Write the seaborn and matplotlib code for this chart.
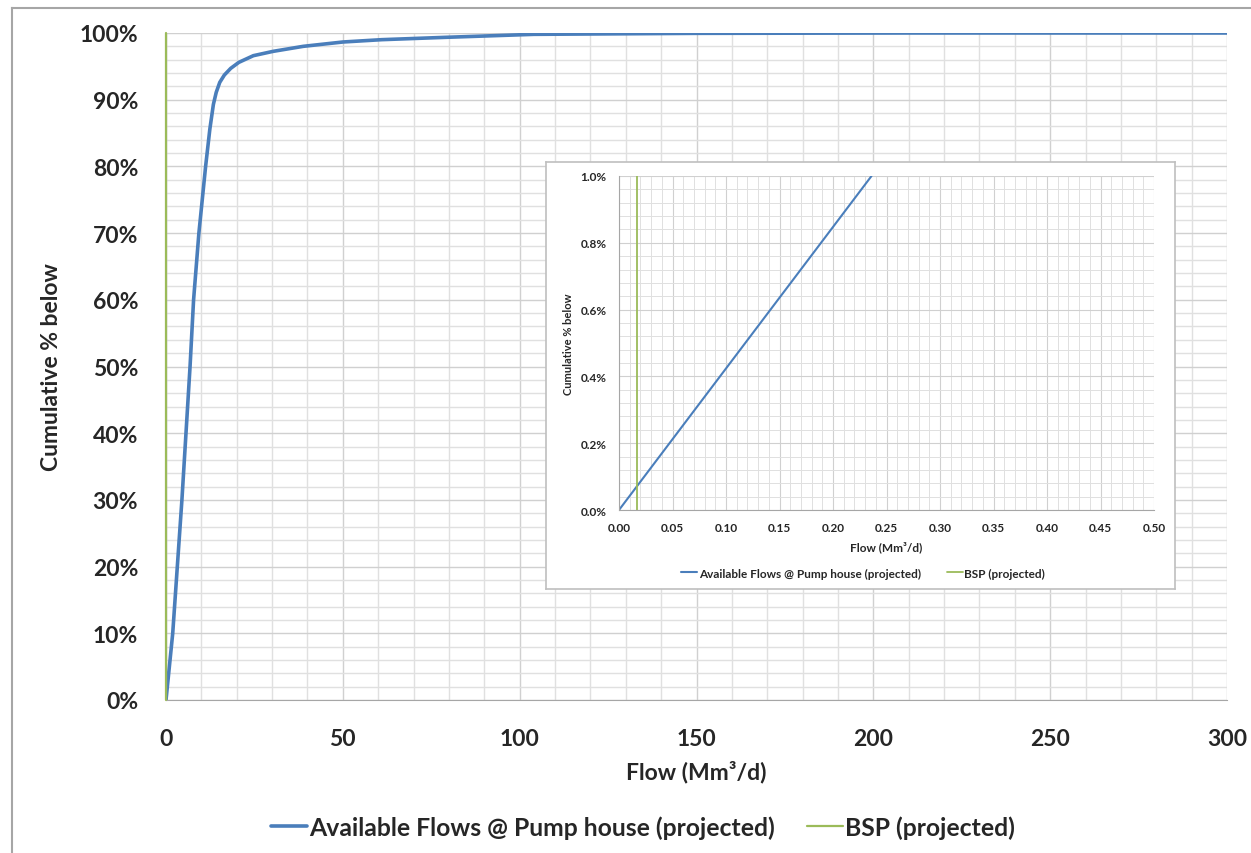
import numpy as np
import pandas as pd
import matplotlib.pyplot as plt
import seaborn as sns
from matplotlib.ticker import MultipleLocator, FuncFormatter

# ---- data ----
flow_main = [0, 1.9, 3.2, 4.5, 5.65, 6.8, 7.8, 9.3, 11.2, 12.4, 13.4, 14.2, 15.2, 16.5,
             18.3, 20.6, 24.7, 30.3, 38.8, 50, 61, 79, 104, 150, 210, 300]
cum_main = [0, 10, 20, 30, 40, 50, 60, 70, 80, 85.6, 89.3, 91.1, 92.6, 93.7,
            94.7, 95.6, 96.6, 97.25, 98, 98.65, 99, 99.35, 99.8, 99.95, 100, 100]

bsp_flow = [0.017, 0.017]
bsp_cum_main = [0, 100]
bsp_cum_inset = [0, 1.0]

inset_flow = [0.0, 0.236]
inset_cum = [0.0, 1.0]

series_names = ["Available Flows @ Pump house (projected)", "BSP (projected)"]

BLUE = "#4a7ebb"
GREEN = "#9bbb59"
GRID_MAJOR = "#d0d0d0"
GRID_MINOR = "#e0e0e0"
AXIS = "#a6a6a6"
TXT = "#262626"

sns.set_style("white")
plt.rcParams['font.family'] = ['Lato', 'DejaVu Sans']
plt.rcParams['font.weight'] = 'bold'

W, H = 1251, 854
fig = plt.figure(figsize=(W / 100, H / 100), dpi=100)

# outer chart border (right and bottom edges fall outside the picture)
frame = fig.add_axes([12 / W, -0.1, 1.2, 1 - 9 / H + 0.1])
frame.set_zorder(-1)
frame.set_xticks([])
frame.set_yticks([])
for s in frame.spines.values():
    s.set_color(AXIS)
    s.set_linewidth(1.5)

# ---- main chart ----
ax = fig.add_axes([166 / W, 1 - 701 / H, 1061 / W, 667 / H])
ax.set_zorder(1)
ax.patch.set_alpha(0)
sns.lineplot(x=flow_main, y=cum_main, ax=ax, color=BLUE, lw=2.6,
             estimator=None, sort=False, label=series_names[0],
             solid_joinstyle='round', solid_capstyle='round')
sns.lineplot(x=bsp_flow, y=bsp_cum_main, ax=ax, color=GREEN, lw=1.6,
             estimator=None, sort=False, label=series_names[1],
             zorder=4, clip_on=False)

ax.set_xlim(0, 300)
ax.set_ylim(0, 100)
ax.xaxis.set_major_locator(MultipleLocator(50))
ax.xaxis.set_minor_locator(MultipleLocator(10))
ax.yaxis.set_major_locator(MultipleLocator(10))
ax.yaxis.set_minor_locator(MultipleLocator(2))
ax.yaxis.set_major_formatter(FuncFormatter(lambda v, p: f"{v:.0f}%"))
ax.grid(which='major', color=GRID_MAJOR, lw=1.0)
ax.grid(which='minor', color=GRID_MINOR, lw=1.0)
ax.set_axisbelow(True)
ax.tick_params(axis='both', which='major', direction='out', length=6, width=1,
               color=AXIS, labelsize=16.5, labelcolor=TXT, pad=14)
ax.tick_params(which='minor', length=0)
for lab in ax.get_xticklabels() + ax.get_yticklabels():
    lab.set_fontweight('bold')
for s in ['top', 'right']:
    ax.spines[s].set_visible(False)
for s in ['left', 'bottom']:
    ax.spines[s].set_color(AXIS)
ax.set_xlabel("Flow (Mm³/d)", fontsize=16.5, fontweight='bold', color=TXT, va='center')
ax.set_ylabel("Cumulative % below", fontsize=16.5, fontweight='bold', color=TXT, va='center')
ax.xaxis.set_label_coords(0.5, (701 - 772) / 667)
ax.yaxis.set_label_coords((52 - 166) / 1061, 0.5)

handles, labels = ax.get_legend_handles_labels()
ax.get_legend().remove()
fig.legend(handles, labels, loc='center', bbox_to_anchor=(643 / W, 1 - 828 / H),
           ncol=2, frameon=False, handlelength=1.45, handletextpad=0.1,
           columnspacing=1.3, prop={'weight': 'bold', 'size': 17.8})

# ---- inset chart ----
box = fig.add_axes([546 / W, 1 - 590 / H, 629 / W, 427 / H])
box.set_zorder(2)
box.set_xticks([])
box.set_yticks([])
box.set_facecolor("white")
for s in box.spines.values():
    s.set_color("#bfbfbf")
    s.set_linewidth(1.2)

ins = fig.add_axes([619 / W, 1 - 511 / H, 535 / W, 334 / H])
ins.set_zorder(3)
ins.set_facecolor("white")
sns.lineplot(x=inset_flow, y=inset_cum, ax=ins, color=BLUE, lw=1.5,
             estimator=None, sort=False, label=series_names[0])
sns.lineplot(x=bsp_flow, y=bsp_cum_inset, ax=ins, color=GREEN, lw=1.3,
             estimator=None, sort=False, label=series_names[1])
ins.set_xlim(0, 0.5)
ins.set_ylim(0, 1.0)
ins.xaxis.set_major_locator(MultipleLocator(0.05))
ins.xaxis.set_minor_locator(MultipleLocator(0.01))
ins.yaxis.set_major_locator(MultipleLocator(0.2))
ins.yaxis.set_minor_locator(MultipleLocator(0.04))
ins.xaxis.set_major_formatter(FuncFormatter(lambda v, p: f"{v:.2f}"))
ins.yaxis.set_major_formatter(FuncFormatter(lambda v, p: f"{v:.1f}%"))
ins.grid(which='major', color=GRID_MAJOR, lw=0.8)
ins.grid(which='minor', color=GRID_MINOR, lw=0.7)
ins.set_axisbelow(True)
ins.tick_params(axis='both', which='major', direction='out', length=3, width=0.8,
                color=AXIS, labelsize=8.5, labelcolor=TXT, pad=6)
ins.tick_params(which='minor', length=0)
for lab in ins.get_xticklabels() + ins.get_yticklabels():
    lab.set_fontweight('bold')
for s in ['top', 'right']:
    ins.spines[s].set_visible(False)
for s in ['left', 'bottom']:
    ins.spines[s].set_color(AXIS)
    ins.spines[s].set_linewidth(0.8)
ins.set_xlabel("Flow (Mm³/d)", fontsize=8.5, fontweight='bold', color=TXT, va='center')
ins.set_ylabel("Cumulative % below", fontsize=8, fontweight='bold', color=TXT, va='center')
ins.xaxis.set_label_coords(0.5, (511 - 547) / 334)
ins.yaxis.set_label_coords((568 - 619) / 535, 0.5)
ins.get_legend().remove()
h2, l2 = ins.get_legend_handles_labels()
leg2 = fig.legend(h2, l2, loc='center', bbox_to_anchor=(863 / W, 1 - 574 / H),
                  ncol=2, frameon=False, handlelength=1.4, handletextpad=0.1,
                  columnspacing=2.2, prop={'weight': 'bold', 'size': 8.5})
leg2.set_zorder(5)

fig.savefig("out.png", dpi=100)
